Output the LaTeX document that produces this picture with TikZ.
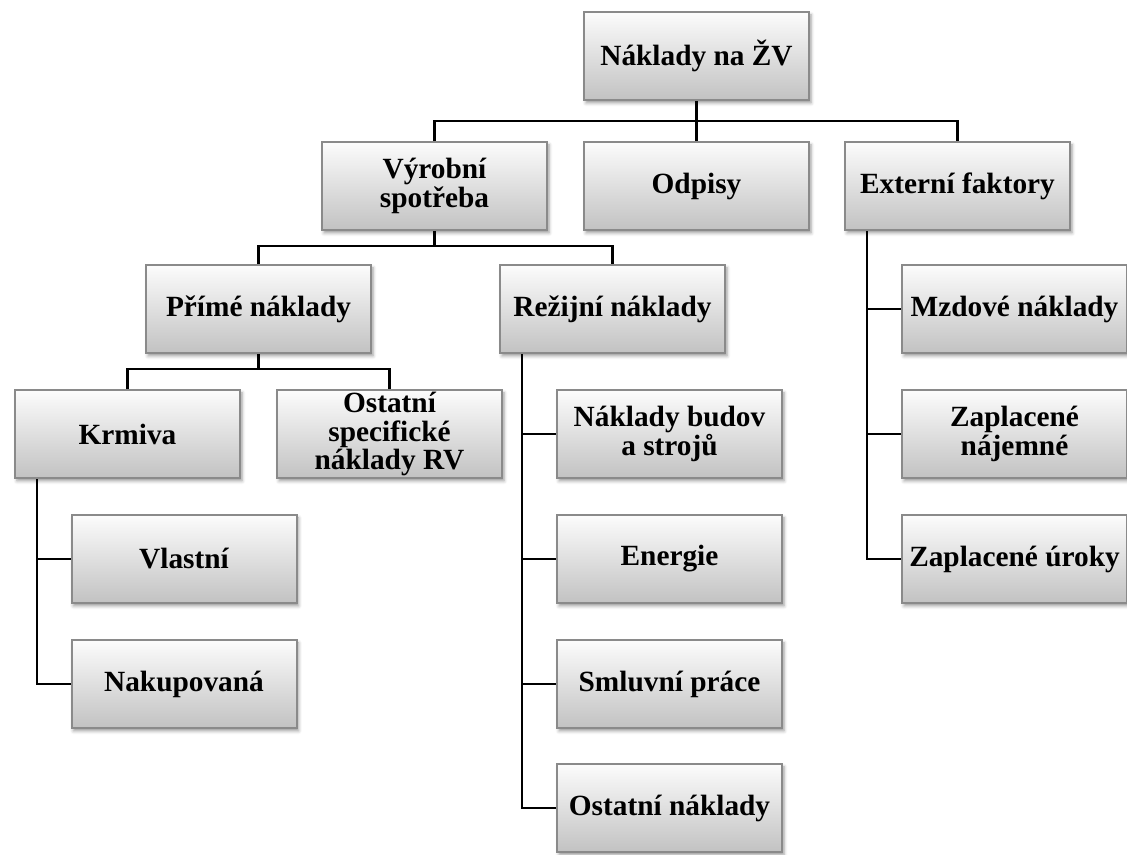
\documentclass[tikz,border=0pt]{standalone}
\usepackage{fontspec}
\setmainfont{Liberation Serif}
\usetikzlibrary{shadows.blur,calc}
\definecolor{boxtop}{HTML}{FCFCFC}
\definecolor{boxbot}{HTML}{C2C2C2}
\definecolor{boxedge}{HTML}{8A8A8A}
\begin{document}
\begin{tikzpicture}[x=0.75pt,y=-0.75pt,
  box/.style={draw=boxedge, line width=1.5pt, top color=boxtop, bottom color=boxbot,
    minimum width=168.75pt, minimum height=66pt, inner sep=0pt, align=center,
    font=\fontsize{22}{21.5}\selectfont\bfseries,
    blur shadow={shadow xshift=1.5pt, shadow yshift=-2.2pt, shadow blur radius=2.5pt}},
  link/.style={line width=1.6pt, black}]
\useasboundingbox (0,0) rectangle (1127,854);

% top level
\node[box] (root) at (696.5,56) {Náklady na ŽV};
\node[box] (vs)   at (434.5,186) {Výrobní\\spotřeba};
\node[box] (odp)  at (696.5,186) {Odpisy};
\node[box] (ext)  at (957.5,186) {Externí faktory};

% production consumption
\node[box] (prime) at (258.5,309) {Přímé náklady};
\node[box] (rezi)  at (612.5,309) {Režijní náklady};

% direct costs
\node[box] (krm) at (127.5,434) {Krmiva};
\node[box] (ost) at (389.5,434) {Ostatní\\specifické\\náklady RV};
\node[box] (vl)  at (184,559) {Vlastní};
\node[box] (nak) at (184,684) {Nakupovaná};

% overheads
\node[box] (bud)  at (669.5,434) {Náklady budov\\a strojů};
\node[box] (en)   at (669.5,559) {Energie};
\node[box] (sml)  at (669.5,684) {Smluvní práce};
\node[box] (ostn) at (669.5,808) {Ostatní náklady};

% external factors
\node[box] (mzd)   at (1014.5,309) {Mzdové náklady};
\node[box] (najem) at (1014.5,434) {Zaplacené\\nájemné};
\node[box] (urok)  at (1014.5,559) {Zaplacené úroky};

% connectors: horizontal buses
\draw[link] (vs.north) -- ++(0,-20) coordinate (b1) -| (ext.north);
\draw[link] (root.south) -- (root.south |- b1);
\draw[link] (odp.north) -- (odp.north |- b1);

\draw[link] (prime.north) -- ++(0,-18) coordinate (b2) -| (rezi.north);
\draw[link] (vs.south) -- (vs.south |- b2);

\draw[link] (krm.north) -- ++(0,-20) coordinate (b3) -| (ost.north);
\draw[link] (prime.south) -- (prime.south |- b3);

% connectors: vertical spines
\coordinate (ks) at ($(krm.south west)+(23,0)$);
\draw[link] (ks) |- (nak.west);
\draw[link] (ks |- vl.west) -- (vl.west);

\coordinate (rs) at ($(rezi.south west)+(23,0)$);
\draw[link] (rs) |- (ostn.west);
\draw[link] (rs |- bud.west) -- (bud.west);
\draw[link] (rs |- en.west) -- (en.west);
\draw[link] (rs |- sml.west) -- (sml.west);

\coordinate (es) at ($(ext.south west)+(23,0)$);
\draw[link] (es) |- (urok.west);
\draw[link] (es |- mzd.west) -- (mzd.west);
\draw[link] (es |- najem.west) -- (najem.west);
\end{tikzpicture}
\end{document}
